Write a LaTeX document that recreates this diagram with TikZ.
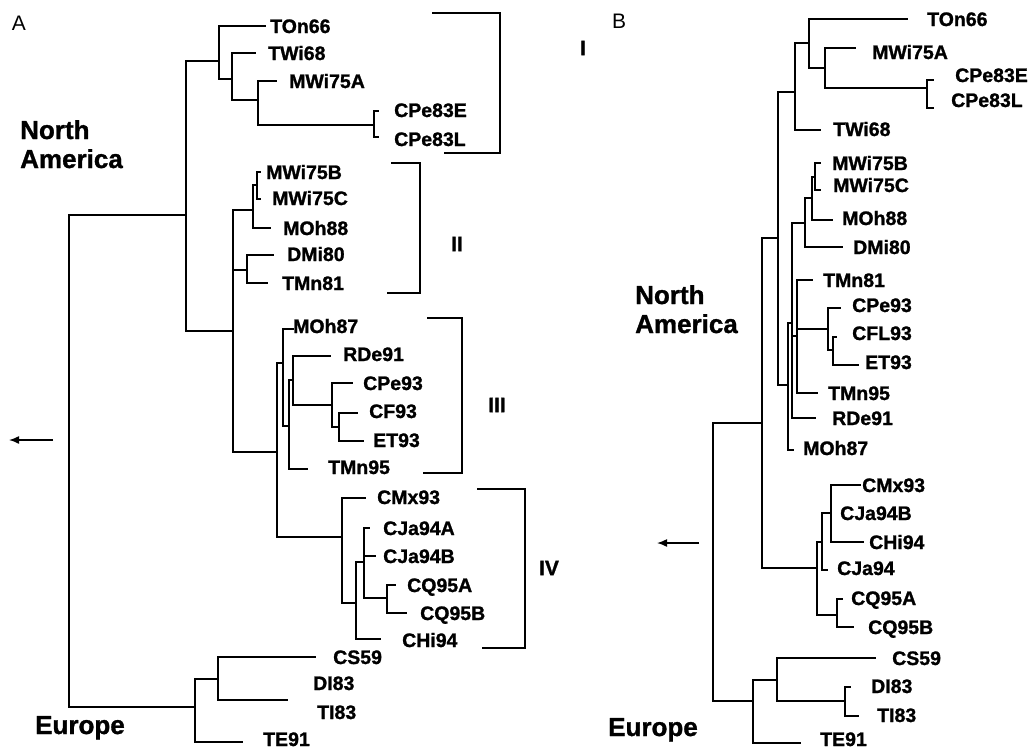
\documentclass[tikz,border=0pt]{standalone}
\usepackage{fontspec}
\setmainfont{Liberation Sans}
\newfontfamily\heavyfam{Liberation Sans Bold}[FakeBold=1.2]
\usetikzlibrary{arrows.meta}
\newcommand\labfont{\heavyfam\fontsize{19.5}{20}\selectfont}
\newcommand\regfont{\heavyfam\fontsize{26}{29}\selectfont}
\newcommand\panfont{\fontsize{21}{22}\selectfont}
\begin{document}
\begin{tikzpicture}[x=1pt,y=-1pt,
  br/.style={line width=2.6pt,line cap=rect},
  bk/.style={line width=1.4pt},
  arr/.style={line width=1.5pt,-{Latex[length=10pt,width=8pt]}},
  lab/.style={anchor=base west,inner sep=0pt,font=\labfont},
  reg/.style={anchor=base west,inner sep=0pt,font=\regfont,align=left},
  rom/.style={anchor=center,inner sep=0pt,font=\heavyfam\fontsize{21}{22}\selectfont},
  pan/.style={anchor=center,inner sep=0pt,font=\panfont}]
\useasboundingbox (0,0) rectangle (1030,750);

% ---------------- Panel A ----------------
\node[pan] (panA) at (19,23) {A};
\node[reg] (naLabA) at (20,168) {North\\America};
\node[reg] (euLabA) at (35,734) {Europe};

\coordinate (rA) at (69,440);
\coordinate (naA) at (186,215);
\coordinate (a1) at (219,61);
\coordinate (a2) at (232,79);
\coordinate (a3) at (258,100);
\coordinate (a4) at (374,125);
\coordinate (a5) at (233,331);
\coordinate (a6) at (253,210);
\coordinate (a7) at (257,185);
\coordinate (a8) at (247,270);
\coordinate (a9) at (277,452);
\coordinate (a10) at (283,363);
\coordinate (a11) at (289,426);
\coordinate (a12) at (293,380);
\coordinate (a13) at (332,405);
\coordinate (a14) at (339,427);
\coordinate (a20) at (342,537);
\coordinate (a21) at (356,603);
\coordinate (a22) at (364,562);
\coordinate (a23) at (387,598);
\coordinate (euA) at (195,707);
\coordinate (a30) at (218,679);

% leaf ends A
\coordinate (ATOn66) at (265,26);
\coordinate (ATWi68) at (255,53);
\coordinate (AMWi75A) at (276,81);
\coordinate (ACPe83E) at (378,111);
\coordinate (ACPe83L) at (378,137);
\coordinate (AMWi75B) at (260,172);
\coordinate (AMWi75C) at (260,199);
\coordinate (AMOh88) at (270,228);
\coordinate (ADMi80) at (273,255);
\coordinate (ATMn81) at (267,283);
\coordinate (AMOh87) at (293,329);
\coordinate (ARDe91) at (330,356);
\coordinate (ACPe93) at (352,383);
\coordinate (ACF93) at (357,413);
\coordinate (AET93) at (363,441);
\coordinate (ATMn95) at (307,469);
\coordinate (ACMx93) at (365,498);
\coordinate (ACJa94A) at (369,528);
\coordinate (ACJa94B) at (375,556);
\coordinate (ACQ95A) at (395,585);
\coordinate (ACQ95B) at (406,613);
\coordinate (ACHi94) at (380,639);
\coordinate (ACS59) at (315,657);
\coordinate (ADITI) at (287,700);
\coordinate (ATE91) at (242,742);

\foreach \p/\c in {rA/naA, rA/euA, naA/a1, naA/a5, a1/ATOn66, a1/a2,
  a2/ATWi68, a2/a3, a3/AMWi75A, a3/a4, a4/ACPe83E, a4/ACPe83L,
  a5/a6, a5/a8, a5/a9, a6/a7, a6/AMOh88, a7/AMWi75B, a7/AMWi75C,
  a8/ADMi80, a8/ATMn81, a9/a10, a9/a20, a10/AMOh87, a10/a11,
  a11/a12, a11/ATMn95, a12/ARDe91, a12/a13, a13/ACPe93, a13/a14,
  a14/ACF93, a14/AET93, a20/ACMx93, a20/a21, a21/a22, a21/ACHi94,
  a22/ACJa94A, a22/ACJa94B, a22/a23, a23/ACQ95A, a23/ACQ95B,
  euA/a30, euA/ATE91, a30/ACS59, a30/ADITI}
  \draw[br] (\p) |- (\c);

% labels A
\node[lab] (lATOn66) at (270,33) {TOn66};
\node[lab] (lATWi68) at (268,60) {TWi68};
\node[lab] (lAMWi75A) at (289,88) {MWi75A};
\node[lab] (lACPe83E) at (394,117) {CPe83E};
\node[lab] (lACPe83L) at (394,146) {CPe83L};
\node[lab] (lAMWi75B) at (266,179) {MWi75B};
\node[lab] (lAMWi75C) at (272,205) {MWi75C};
\node[lab] (lAMOh88) at (283,235) {MOh88};
\node[lab] (lADMi80) at (287,261) {DMi80};
\node[lab] (lATMn81) at (282,290) {TMn81};
\node[lab] (lAMOh87) at (293,333) {MOh87};
\node[lab] (lARDe91) at (343,361) {RDe91};
\node[lab] (lACPe93) at (363,390) {CPe93};
\node[lab] (lACF93) at (369,418) {CF93};
\node[lab] (lAET93) at (373,447) {ET93};
\node[lab] (lATMn95) at (328,474) {TMn95};
\node[lab] (lACMx93) at (377,504) {CMx93};
\node[lab] (lACJa94A) at (383,535) {CJa94A};
\node[lab] (lACJa94B) at (383,563) {CJa94B};
\node[lab] (lACQ95A) at (407,592) {CQ95A};
\node[lab] (lACQ95B) at (420,620) {CQ95B};
\node[lab] (lACHi94) at (402,647) {CHi94};
\node[lab] (lACS59) at (333,664) {CS59};
\node[lab] (lADI83) at (313,690) {DI83};
\node[lab] (lATI83) at (317,719) {TI83};
\node[lab] (lATE91) at (263,746) {TE91};

% brackets A
\draw[bk] (432,13) -- (500,13) -- (500,153) -- (444,153);
\draw[bk] (391,163) -- (420,163) -- (420,293) -- (387,293);
\draw[bk] (427,318) -- (462,318) -- (462,473) -- (423,473);
\draw[bk] (477,489) -- (525,489) -- (525,648) -- (482,648);
\node[rom] (rI) at (583,48) {I};
\node[rom] (rII) at (457,244) {II};
\node[rom] (rIII) at (497,405) {III};
\node[rom] (rIV) at (549,568) {IV};

\coordinate (arA0) at (53,440);
\coordinate (arA1) at (9,440);
\draw[arr] (arA0) -- (arA1);

% ---------------- Panel B ----------------
\node[pan] (panB) at (619,21) {B};
\node[reg] (naLabB) at (635,333) {North\\America};
\node[reg] (euLabB) at (608,736) {Europe};

\coordinate (rB) at (713,562);
\coordinate (naB) at (762,423);
\coordinate (b1) at (778,238);
\coordinate (b2) at (795,92);
\coordinate (b3) at (809,43);
\coordinate (b4) at (825,68);
\coordinate (b5) at (927,88);
\coordinate (b6) at (788,385);
\coordinate (b7) at (792,323);
\coordinate (b8) at (805,223);
\coordinate (b9) at (812,198);
\coordinate (b10) at (815,177);
\coordinate (b11) at (797,336);
\coordinate (b12) at (828,329);
\coordinate (b13) at (833,350);
\coordinate (b20) at (817,568);
\coordinate (b21) at (822,542);
\coordinate (b22) at (831,513);
\coordinate (b23) at (837,615);
\coordinate (euB) at (753,701);
\coordinate (b30) at (777,680);
\coordinate (b31) at (845,701);

\coordinate (BTOn66) at (907,19);
\coordinate (BMWi75A) at (855,48);
\coordinate (BCPe83E) at (933,80);
\coordinate (BCPe83L) at (933,108);
\coordinate (BTWi68) at (820,130);
\coordinate (BMWi75B) at (820,163);
\coordinate (BMWi75C) at (820,190);
\coordinate (BMOh88) at (832,220);
\coordinate (BDMi80) at (842,247);
\coordinate (BTMn81) at (812,280);
\coordinate (BCPe93) at (840,308);
\coordinate (BCFL93) at (836,337);
\coordinate (BET93) at (858,365);
\coordinate (BTMn95) at (817,393);
\coordinate (BRDe91) at (815,418);
\coordinate (BMOh87) at (793,450);
\coordinate (BCMx93) at (860,485);
\coordinate (BCHi94) at (863,542);
\coordinate (BCJa94) at (827,570);
\coordinate (BCQ95A) at (842,599);
\coordinate (BCQ95B) at (853,627);
\coordinate (BCS59) at (875,658);
\coordinate (BDI83) at (850,687);
\coordinate (BTI83) at (858,716);
\coordinate (BTE91) at (800,743);

\foreach \p/\c in {rB/naB, rB/euB, naB/b1, naB/b20, b1/b2, b1/b6,
  b2/b3, b2/BTWi68, b3/BTOn66, b3/b4, b4/BMWi75A, b4/b5,
  b5/BCPe83E, b5/BCPe83L, b6/b7, b6/BMOh87, b7/b8, b7/b11, b7/BRDe91,
  b8/b9, b8/BDMi80, b9/b10, b9/BMOh88, b10/BMWi75B, b10/BMWi75C,
  b11/BTMn81, b11/b12, b11/BTMn95, b12/BCPe93, b12/b13,
  b13/BCFL93, b13/BET93, b20/b21, b20/b23, b21/b22, b21/BCJa94,
  b22/BCMx93, b22/BCHi94, b23/BCQ95A, b23/BCQ95B,
  euB/b30, euB/BTE91, b30/BCS59, b30/b31, b31/BDI83, b31/BTI83}
  \draw[br] (\p) |- (\c);

\node[lab] (lBTOn66) at (927,26) {TOn66};
\node[lab] (lBMWi75A) at (872,59) {MWi75A};
\node[lab] (lBCPe83E) at (955,82) {CPe83E};
\node[lab] (lBCPe83L) at (951,107) {CPe83L};
\node[lab] (lBTWi68) at (833,136) {TWi68};
\node[lab] (lBMWi75B) at (832,170) {MWi75B};
\node[lab] (lBMWi75C) at (833,192) {MWi75C};
\node[lab] (lBMOh88) at (842,225) {MOh88};
\node[lab] (lBDMi80) at (853,254) {DMi80};
\node[lab] (lBTMn81) at (823,287) {TMn81};
\node[lab] (lBCPe93) at (852,312) {CPe93};
\node[lab] (lBCFL93) at (852,340) {CFL93};
\node[lab] (lBET93) at (865,369) {ET93};
\node[lab] (lBTMn95) at (828,400) {TMn95};
\node[lab] (lBRDe91) at (832,425) {RDe91};
\node[lab] (lBMOh87) at (803,455) {MOh87};
\node[lab] (lBCMx93) at (862,492) {CMx93};
\node[lab] (lBCJa94B) at (840,520) {CJa94B};
\node[lab] (lBCHi94) at (869,549) {CHi94};
\node[lab] (lBCJa94) at (837,575) {CJa94};
\node[lab] (lBCQ95A) at (851,605) {CQ95A};
\node[lab] (lBCQ95B) at (868,634) {CQ95B};
\node[lab] (lBCS59) at (892,665) {CS59};
\node[lab] (lBDI83) at (871,693) {DI83};
\node[lab] (lBTI83) at (877,722) {TI83};
\node[lab] (lBTE91) at (820,746) {TE91};

\coordinate (arB0) at (699,543);
\coordinate (arB1) at (657,543);
\draw[arr] (arB0) -- (arB1);
\end{tikzpicture}
\end{document}
